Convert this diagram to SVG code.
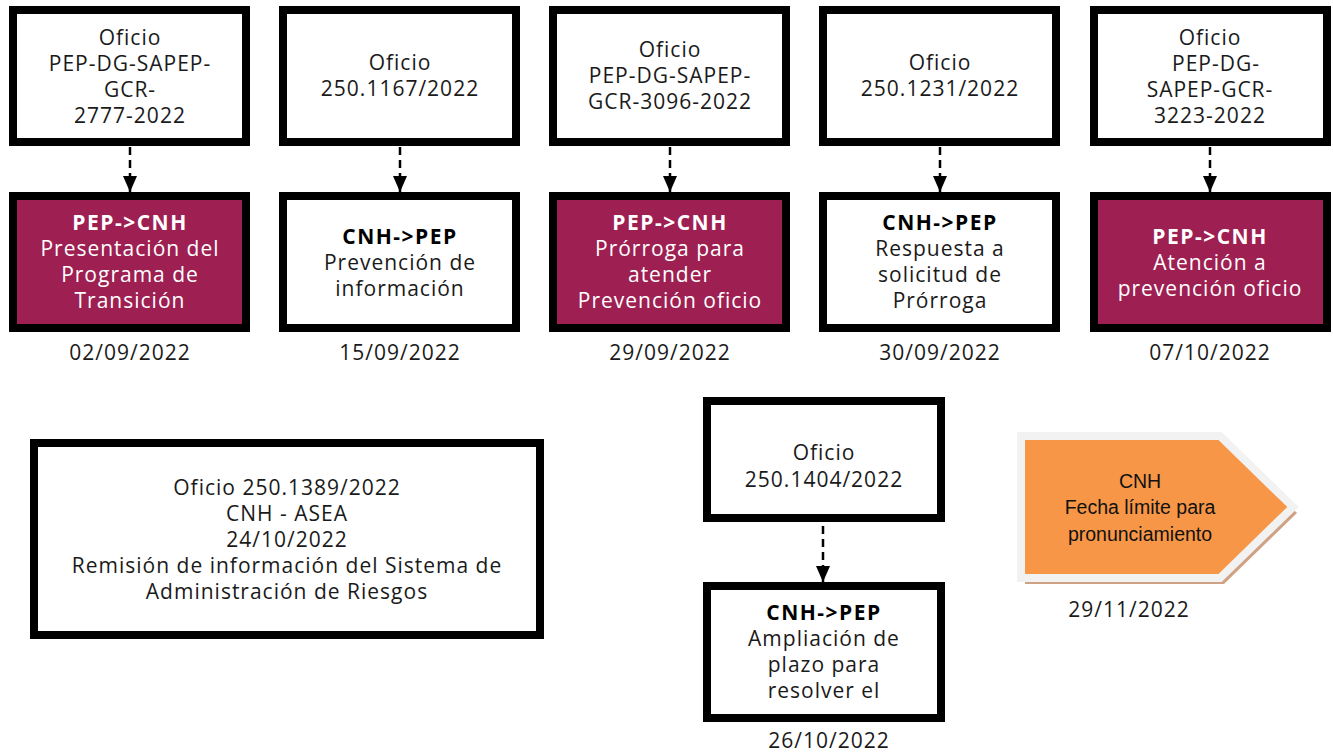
<svg xmlns="http://www.w3.org/2000/svg" width="1333" height="753" viewBox="0 0 1333 753">
<style>
.box{fill:#fff;stroke:#000;stroke-width:8}
.mag{fill:#9E1F52;stroke:#000;stroke-width:8}
text{font-family:"Open Sans","DejaVu Sans",sans-serif;font-size:21px;letter-spacing:1px;text-anchor:middle;fill:#1a1a1a}
.w{fill:#fff}
.b{font-weight:bold;letter-spacing:1.5px}
.bk{fill:#000}
.cal{font-family:"Liberation Sans",Arial,sans-serif;font-size:19.5px;letter-spacing:0;fill:#111}
.conn{stroke:#000;stroke-width:2.5;stroke-dasharray:8 5;fill:none}
</style>
<defs>
<marker id="ah" markerUnits="userSpaceOnUse" markerWidth="16" markerHeight="14" refX="16" refY="7" orient="auto">
<path d="M0,0 L16,7 L0,14 Z" fill="#000"/>
</marker>
</defs>
<rect width="1333" height="753" fill="#fff"/>
<g id="connectors">
<line class="conn" x1="130" y1="147" x2="130" y2="192" marker-end="url(#ah)"/>
<line class="conn" x1="400" y1="147" x2="400" y2="192" marker-end="url(#ah)"/>
<line class="conn" x1="670" y1="147" x2="670" y2="192" marker-end="url(#ah)"/>
<line class="conn" x1="940" y1="147" x2="940" y2="192" marker-end="url(#ah)"/>
<line class="conn" x1="1210" y1="147" x2="1210" y2="192" marker-end="url(#ah)"/>
<line class="conn" x1="823" y1="526" x2="823" y2="582" marker-end="url(#ah)"/>
</g>
<g id="n1">
<rect class="box" x="13" y="10" width="233" height="132"/>
<text x="130" y="45">Oficio</text>
<text x="130" y="71">PEP-DG-SAPEP-</text>
<text x="130" y="97">GCR-</text>
<text x="130" y="123">2777-2022</text>
</g>
<g id="n1b">
<rect class="mag" x="13" y="196" width="233" height="132"/>
<text class="w b" x="130" y="230">PEP-&gt;CNH</text>
<text class="w" x="130" y="256">Presentación del</text>
<text class="w" x="130" y="282">Programa de</text>
<text class="w" x="130" y="308">Transición</text>
<text x="130" y="360">02/09/2022</text>
</g>
<g id="n2">
<rect class="box" x="283" y="10" width="233" height="132"/>
<text x="400" y="70">Oficio</text>
<text x="400" y="96">250.1167/2022</text>
</g>
<g id="n2b">
<rect class="box" x="283" y="196" width="233" height="132"/>
<text class="bk b" x="400" y="244">CNH-&gt;PEP</text>
<text x="400" y="270">Prevención de</text>
<text x="400" y="296">información</text>
<text x="400" y="360">15/09/2022</text>
</g>
<g id="n3">
<rect class="box" x="553" y="10" width="233" height="132"/>
<text x="670" y="57">Oficio</text>
<text x="670" y="83">PEP-DG-SAPEP-</text>
<text x="670" y="109">GCR-3096-2022</text>
</g>
<g id="n3b">
<rect class="mag" x="553" y="196" width="233" height="132"/>
<text class="w b" x="670" y="230">PEP-&gt;CNH</text>
<text class="w" x="670" y="256">Prórroga para</text>
<text class="w" x="670" y="282">atender</text>
<text class="w" x="670" y="308">Prevención oficio</text>
<text x="670" y="360">29/09/2022</text>
</g>
<g id="n4">
<rect class="box" x="823" y="10" width="233" height="132"/>
<text x="940" y="70">Oficio</text>
<text x="940" y="96">250.1231/2022</text>
</g>
<g id="n4b">
<rect class="box" x="823" y="196" width="233" height="132"/>
<text class="bk b" x="940" y="230">CNH-&gt;PEP</text>
<text x="940" y="256">Respuesta a</text>
<text x="940" y="282">solicitud de</text>
<text x="940" y="308">Prórroga</text>
<text x="940" y="360">30/09/2022</text>
</g>
<g id="n5">
<rect class="box" x="1094" y="10" width="233" height="132"/>
<text x="1210" y="45">Oficio</text>
<text x="1216" y="71">PEP-DG-</text>
<text x="1210" y="97">SAPEP-GCR-</text>
<text x="1210" y="123">3223-2022</text>
</g>
<g id="n5b">
<rect class="mag" x="1094" y="196" width="233" height="132"/>
<text class="w b" x="1210" y="244">PEP-&gt;CNH</text>
<text class="w" x="1210" y="270">Atención a</text>
<text class="w" x="1210" y="296">prevención oficio</text>
<text x="1210" y="360">07/10/2022</text>
</g>
<g id="n6">
<rect class="box" x="34" y="443" width="506" height="192"/>
<text x="287" y="495">Oficio 250.1389/2022</text>
<text x="287" y="521">CNH - ASEA</text>
<text x="287" y="547">24/10/2022</text>
<text x="287" y="573">Remisión de información del Sistema de</text>
<text x="287" y="599">Administración de Riesgos</text>
</g>
<g id="n7">
<rect class="box" x="707" y="401" width="234" height="117"/>
<text x="824" y="460">Oficio</text>
<text x="824" y="487">250.1404/2022</text>
</g>
<g id="n7b">
<rect class="box" x="707" y="586" width="234" height="132"/>
<text class="bk b" x="824" y="620">CNH-&gt;PEP</text>
<text x="824" y="646">Ampliación de</text>
<text x="824" y="672">plazo para</text>
<text x="824" y="698">resolver el</text>
<text x="829" y="748">26/10/2022</text>
</g>
<g id="n8">
<polygon points="1025,442 1224,442 1297,513 1224,584 1025,584" fill="#CFA283"/>
<polygon points="1021,436 1220,436 1293,507 1220,578 1021,578" fill="#F79646" stroke="#F2F2F2" stroke-width="8" stroke-linejoin="miter"/>
<text class="cal" x="1140" y="488">CNH</text>
<text class="cal" x="1140" y="514">Fecha límite para</text>
<text class="cal" x="1140" y="541">pronunciamiento</text>
<text x="1129" y="617">29/11/2022</text>
</g>
</svg>
